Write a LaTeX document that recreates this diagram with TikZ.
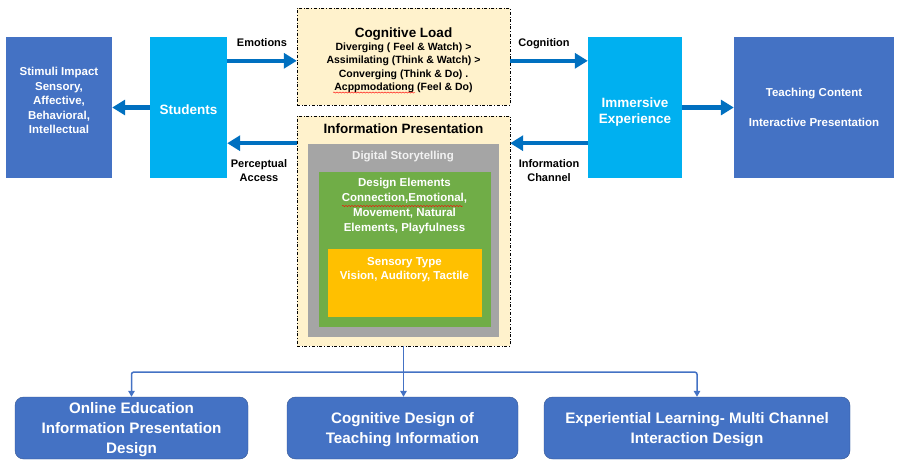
\documentclass[tikz,border=0pt]{standalone}
\usepackage{fontspec}
\setmainfont{Liberation Sans}
\usepackage{tikz}
\usetikzlibrary{
  arrows.meta,
  positioning,              % Function "of" (e.g. [below=of x])
  decorations.pathmorphing, % Wavy spell-check underline
}
\newcommand{\fsz}[2]{\fontsize{#1}{#2}\selectfont}
\newcommand{\mystrut}[1]{\rule{0pt}{#1}}
\definecolor{darkblue}{HTML}{4472C4}
\definecolor{lightblue}{HTML}{00B0F0}
\definecolor{arrowblue}{HTML}{0070C0}
\definecolor{paper}{HTML}{FFF2CC}
\definecolor{stone}{HTML}{A5A5A5}
\definecolor{leaf}{HTML}{70AD47}
\definecolor{amber}{HTML}{FFC000}
\definecolor{edgeblue}{HTML}{2F528F}
\def\myboxh{141pt}
\def\myflowshift{24pt}
\tikzset{
  font=\bfseries,
  my box/.style={
    rectangle,
    inner sep=1mm,
    align=center,
    text=white,
    minimum height=\myboxh
  },
  my outer/.style={
    my box,
    fill=darkblue,
    font=\bfseries\fsz{11.5}{14.5}
  },
  my actor/.style={
    my box,
    fill=lightblue,
    font=\bfseries\fsz{13.5}{16}
  },
  my panel/.style={
    draw,
    dash dot,
    thin,
    fill=paper,
    rectangle
  },
  my layer/.style={
    rectangle,
    draw=none,
    inner sep=0mm
  },
  my result/.style={
    rectangle,
    rounded corners=3mm,
    draw=edgeblue,
    fill=darkblue,
    text=white,
    align=center,
    minimum height=62pt,
    text depth=0pt,
    font=\bfseries\fsz{15.2}{20}
  },
  flow/.style={
    draw=arrowblue,
    line width=4.5pt,
    -{Triangle[length=13pt,width=15pt]}
  },
  flow text/.style={
    align=center,
    inner sep=0mm,
    font=\bfseries\fsz{11}{14}
  },
  branch/.style={
    draw=darkblue,
    line width=1.5pt,
    rounded corners=2pt,
    -{Triangle[length=6pt,width=6.5pt]}
  },
  spell/.style={
    draw=red,
    thin,
    decorate,
    decoration={snake,amplitude=0.6pt,segment length=3pt}
  }
}

\begin{document}
\begin{tikzpicture}[x=1pt,y=-1pt]
\useasboundingbox (0,0) rectangle (897,461);
% top row
\node[my outer, minimum width=106pt, text depth=14pt] (stimuli) at (59,107.5)
  {Stimuli Impact\\Sensory,\\Affective,\\Behavioral,\\Intellectual};
\node[my actor, minimum width=77pt] (students) at (188.5,107.5) {\mystrut{14pt}Students};
\node[my actor, minimum width=94pt] (immersive) at (635,107.5)
  {\mystrut{18pt}Immersive\\Experience};
\node[my outer, minimum width=160pt] (teaching) at (814,107.5)
  {Teaching Content\\[15pt]Interactive Presentation};
% centre column
\node[my panel, minimum width=213pt, minimum height=97pt, align=center,
      font=\bfseries\fsz{10.5}{13.2}] (cogload) at (403.5,56.5)
  {{\fsz{13.5}{14}\mystrut{17pt}Cognitive Load}\\Diverging ( Feel \& Watch) >\\
   Assimilating (Think \& Watch) >\\Converging (Think \& Do) .\\
   Acppmodationg (Feel \& Do)};
\node[my panel, minimum width=213pt, minimum height=230pt] (infopres) at (403.5,231) {};
\node[my layer, fill=stone, minimum width=191pt, minimum height=193pt] (story) at (403,240) {};
\node[my layer, fill=leaf, minimum width=172pt, minimum height=155pt] (design) at (404.5,249) {};
\node[my layer, fill=amber, minimum width=154pt, minimum height=68pt] (sensory) at (404.5,283) {};
\node[flow text, font=\bfseries\fsz{13.5}{14}, below=7.5pt of infopres.north] {Information Presentation};
\node[flow text, text=white!95!black, font=\bfseries\fsz{11.5}{14}, below=7.5pt of story.north]
  {Digital Storytelling};
\node[flow text, text=white, font=\bfseries\fsz{11.5}{14.8}, below=7pt of design.north] (elements)
  {Design Elements\\Connection,Emotional,\\Movement, Natural\\Elements, Playfulness};
\node[flow text, text=white, font=\bfseries\fsz{11.5}{14}, below=8.5pt of sensory.north]
  {Sensory Type\\Vision, Auditory, Tactile};
% bottom row
\node[my result, minimum width=233pt] (online) at (131.5,428)
  {Online Education\\Information Presentation\\Design};
\node[my result, minimum width=231pt] (cogdesign) at (402.5,428)
  {Cognitive Design of\\Teaching Information};
\node[my result, minimum width=306pt] (experiential) at (697,428)
  {Experiential Learning- Multi Channel\\Interaction Design};

% thick flows
\draw[flow] (students.west) -- (stimuli.east);
\draw[flow] (immersive.east) -- (teaching.west);
\coordinate (emo) at ([yshift=-\myflowshift]students.north east);
\draw[flow] (emo) -- (emo -| cogload.west)
  node[midway, above=10pt, text depth=2.5pt, flow text] {Emotions};
\coordinate (cog) at ([yshift=-\myflowshift]immersive.north west);
\draw[flow] (cog -| cogload.east) -- (cog)
  node[midway, above=10pt, text depth=2.5pt, flow text, xshift=-5pt] {Cognition};
\coordinate (perc) at ([yshift=35pt]students.south east);
\draw[flow] (perc -| infopres.west) -- (perc)
  node[midway, below=14pt, flow text, xshift=-3pt] {Perceptual\\Access};
\coordinate (chan) at ([yshift=35pt]immersive.south west);
\draw[flow] (chan) -- (chan -| infopres.east)
  node[midway, below=14pt, flow text] {Information\\Channel};

% branches to the bottom row
\coordinate (split) at ([yshift=-26pt]infopres.south);
\draw[branch] (infopres.south) -- (infopres.south |- cogdesign.north);
\draw[branch] (split) -| (online.north);
\draw[branch] (split) -| (experiential.north);

% spell-check squiggles
\draw[spell] ([xshift=-70.5pt,yshift=-36pt]cogload.center) -- ++(82,0);
\draw[spell] ([xshift=-62.5pt,yshift=43pt]design.center) -- ++(121,0);
\end{tikzpicture}
\end{document}
